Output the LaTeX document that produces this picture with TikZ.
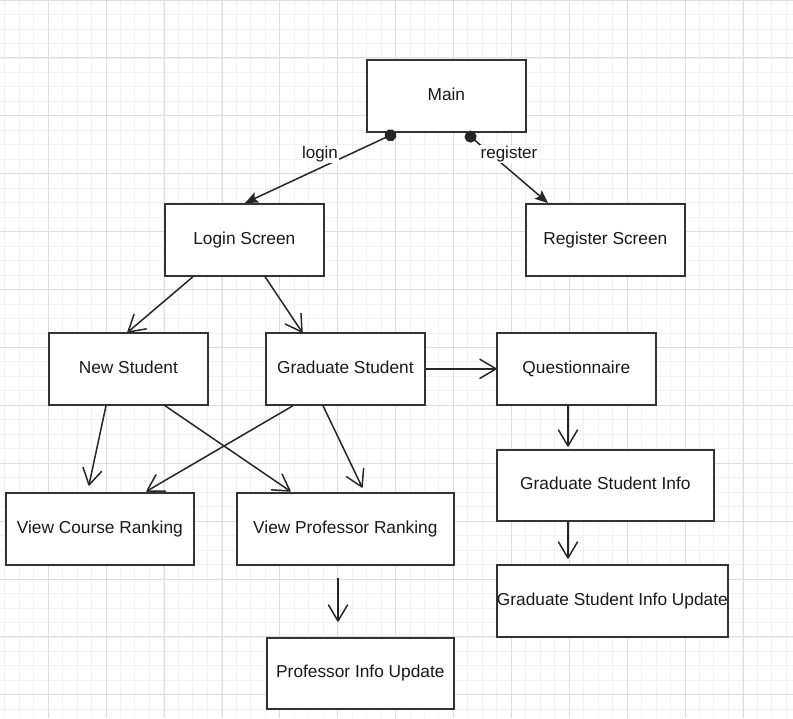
\documentclass[tikz,border=0pt]{standalone}
\usepackage{fontspec}
\setmainfont{Liberation Sans}
\usetikzlibrary{arrows.meta,calc}
\pgfdeclarearrow{
  name = OpenV,
  parameters = {\the\pgfarrowlength,\the\pgfarrowwidth,\the\pgfarrowlinewidth},
  setup code = {
    \pgfarrowssettipend{0pt}
    \pgfarrowssetlineend{-0.5\pgfarrowlinewidth}
    \pgfarrowssetbackend{-\pgfarrowlength}
    \pgfarrowshullpoint{0pt}{0pt}
    \pgfarrowsupperhullpoint{-\pgfarrowlength}{.5\pgfarrowwidth}
    \pgfarrowssavethe\pgfarrowlength
    \pgfarrowssavethe\pgfarrowwidth
    \pgfarrowssavethe\pgfarrowlinewidth
  },
  drawing code = {
    \pgfsetdash{}{+0pt}
    \pgfsetlinewidth{\pgfarrowlinewidth}
    \pgfsetroundjoin\pgfsetroundcap
    \pgfpathmoveto{\pgfqpoint{-\pgfarrowlength}{.5\pgfarrowwidth}}
    \pgfpathlineto{\pgfpointorigin}
    \pgfpathlineto{\pgfqpoint{-\pgfarrowlength}{-.5\pgfarrowwidth}}
    \pgfusepathqstroke
  },
  defaults = {length=10pt, width=10pt, line width=1.5pt}
}
\tikzset{
  box/.style={draw=black!80, line width=1.7pt, fill=white, minimum width=#1, minimum height=72pt, inner sep=0pt, font=\fontsize{17.3}{20}\selectfont, text=black!90, text height=12.5pt, text depth=3.6pt, anchor=north west},
  box/.default=159pt,
  vtip/.tip={OpenV[length=16pt,width=19pt,line width=1.5pt]},
  conn/.style={draw=black!85, line width=1.5pt, -vtip},
  fconn/.style={draw=black!85, line width=1.5pt, {Circle[length=12pt,width=12pt]}-{Stealth[length=13pt,width=11pt,inset=2.5pt]}},
  lbl/.style={fill=white, inner sep=1pt, font=\fontsize{17}{20}\selectfont, text=black!90},
  minorg/.style={draw=black!5, line width=0.8pt},
  majorg/.style={draw=black!13, line width=1pt}
}
\begin{document}
\begin{tikzpicture}[x=1pt,y=-1pt]
\useasboundingbox (0,0) rectangle (793,718);
\fill[white] (0,0) rectangle (793,718);
% grid
\foreach \i in {0,...,55} {
  \pgfmathsetmacro{\gx}{4.6+14.475*\i}
  \draw[minorg] (\gx,0) -- (\gx,718);
}
\foreach \i in {0,...,50} {
  \pgfmathsetmacro{\gy}{14.475*\i}
  \draw[minorg] (0,\gy) -- (793,\gy);
}
\foreach \i in {0,...,13} {
  \pgfmathsetmacro{\gx}{48.3+57.9*(\i-1)}
  \draw[majorg] (\gx,0) -- (\gx,718);
}
\foreach \i in {0,...,12} {
  \pgfmathsetmacro{\gy}{57.9*\i}
  \draw[majorg] (0,\gy) -- (793,\gy);
}
% nodes
\node[box] (main) at (366,59) {Main};
\node[box] (login) at (164,203) {Login Screen};
\node[box] (reg) at (525,203) {Register Screen};
\node[box] (new) at (48,332) {New Student};
\node[box] (grad) at (265,332) {Graduate Student};
\node[box] (quest) at (496,332) {Questionnaire};
\node[box=188pt] (vcr) at (5,492) {View Course Ranking};
\node[box=217pt] (vpr) at (236,492) {View Professor Ranking};
\node[box=217pt, minimum height=71pt] (gsi) at (496,449) {Graduate Student Info};
\node[box=231pt] (gsiu) at (496,564) {Graduate Student Info Update};
\node[box=187pt, minimum height=71pt] (piu) at (266,637) {Professor Info Update};
% connectors
\draw[fconn] ([xshift=30pt]main.south west) -- ([xshift=81pt]login.north west);
\node[lbl] (loginlbl) at (320,154) {login};
\draw[fconn] ([xshift=100pt]main.south west) -- ([xshift=23pt]reg.north west);
\node[lbl] (reglbl) at (509,154) {register};
\draw[conn] ([xshift=29pt]login.south west) -- ([xshift=80pt]new.north west);
\draw[conn] ([xshift=101pt]login.south west) -- ([xshift=37pt]grad.north west);
\draw[conn] (grad.east) -- (quest.west);
\coordinate (vcrA) at (89,485);
\coordinate (vprA) at (362,487);
\draw[conn] ([xshift=58pt]new.south west) -- (vcrA);
\draw[conn] ([xshift=117pt]new.south west) -- ([xshift=54pt,yshift=1pt]vpr.north west);
\draw[conn] ([xshift=28pt]grad.south west) -- ([xshift=142pt,yshift=1pt]vcr.north west);
\draw[conn] ([xshift=58pt]grad.south west) -- (vprA);
\coordinate (gsiA) at (568,446);
\coordinate (gsiuA) at (568,558);
\draw[conn] ([xshift=72pt]quest.south west) -- (gsiA);
\draw[conn] ([xshift=72pt]gsi.south west) -- (gsiuA);
\coordinate (pa) at (338,578);
\coordinate (pb) at (338,621);
\draw[conn] (pa) -- (pb);
\end{tikzpicture}
\end{document}
